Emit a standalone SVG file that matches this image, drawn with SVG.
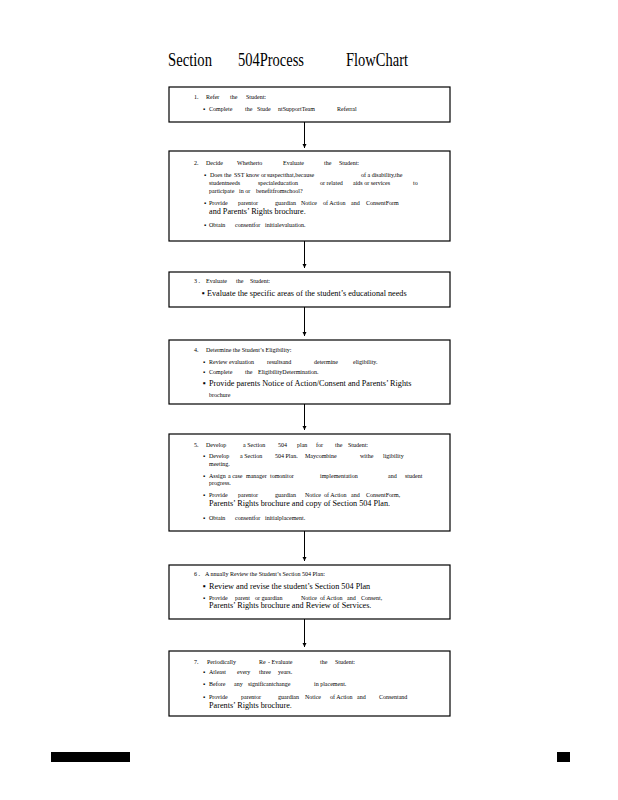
<svg xmlns="http://www.w3.org/2000/svg" width="618" height="800" viewBox="0 0 618 800">
<style>
.box{fill:#fff;stroke:#000;stroke-width:1.2}
.s{font-family:"Liberation Serif","Times New Roman",serif;font-size:6px;fill:#000}
.l{font-family:"Liberation Serif","Times New Roman",serif;font-size:8.2px;fill:#000}
.t{font-family:"Liberation Serif","Times New Roman",serif;font-size:18px;fill:#000}
.c{stroke:#000;stroke-width:1;fill:none}
</style>
<defs>
<marker id="ah" viewBox="0 0 6 6" refX="6" refY="3" markerWidth="4.5" markerHeight="4.5" markerUnits="userSpaceOnUse" orient="auto">
<path d="M0,0 L6,3 L0,6 z" fill="#000"/>
</marker>
</defs>
<rect width="618" height="800" fill="#fff"/>
<g id="title">
<text class="t" y="66"><tspan x="168" textLength="44" lengthAdjust="spacingAndGlyphs">Section</tspan><tspan x="238" textLength="66" lengthAdjust="spacingAndGlyphs">504Process</tspan><tspan x="346" textLength="62" lengthAdjust="spacingAndGlyphs">FlowChart</tspan></text>
</g>
<g id="connectors">
<line class="c" x1="304.5" y1="122" x2="304.5" y2="148" marker-end="url(#ah)"/>
<line class="c" x1="304.5" y1="241" x2="304.5" y2="268" marker-end="url(#ah)"/>
<line class="c" x1="304.5" y1="307" x2="304.5" y2="336" marker-end="url(#ah)"/>
<line class="c" x1="304.5" y1="404" x2="304.5" y2="430" marker-end="url(#ah)"/>
<line class="c" x1="304.5" y1="531" x2="304.5" y2="561" marker-end="url(#ah)"/>
<line class="c" x1="304.5" y1="619" x2="304.5" y2="647" marker-end="url(#ah)"/>
</g>
<g id="node1">
<rect class="box" x="169" y="87" width="281" height="35"/>
<text class="s" y="99"><tspan x="194">1.</tspan><tspan x="206">Refer</tspan><tspan x="230">the</tspan><tspan x="246">Student:</tspan></text>
<text class="s" y="111"><tspan x="203">▪</tspan><tspan x="209">Complete</tspan><tspan x="245">the</tspan><tspan x="257">Stude</tspan><tspan x="278">ntSupportTeam</tspan><tspan x="337">Referral</tspan></text>
</g>
<g id="node2">
<rect class="box" x="169" y="151" width="281" height="90"/>
<text class="s" y="165"><tspan x="194">2.</tspan><tspan x="206">Decide</tspan><tspan x="237">Whetherto</tspan><tspan x="283">Evaluate</tspan><tspan x="324">the</tspan><tspan x="339">Student:</tspan></text>
<text class="s" y="177"><tspan x="204">▪</tspan><tspan x="210">Does</tspan><tspan x="224">the</tspan><tspan x="234">SST</tspan><tspan x="246">know</tspan><tspan x="261">or</tspan><tspan x="267">suspectthat,because</tspan><tspan x="361">of a disability,the</tspan></text>
<text class="s" y="185"><tspan x="209">studentneeds</tspan><tspan x="258">specialeducation</tspan><tspan x="320">or related</tspan><tspan x="353">aids or services</tspan><tspan x="413">to</tspan></text>
<text class="s" y="193"><tspan x="209">participate</tspan><tspan x="239">in or</tspan><tspan x="256">benefitfromschool?</tspan></text>
<text class="s" y="205"><tspan x="204">▪</tspan><tspan x="209">Provide</tspan><tspan x="238">parentor</tspan><tspan x="275">guardian</tspan><tspan x="301">Notice</tspan><tspan x="323">of Action</tspan><tspan x="351">and</tspan><tspan x="366">ConsentForm</tspan></text>
<text class="l" x="209" y="214">and Parents’ Rights brochure.</text>
<text class="s" y="227"><tspan x="204">▪</tspan><tspan x="209">Obtain</tspan><tspan x="235">consentfor</tspan><tspan x="265">initialevaluation.</tspan></text>
</g>
<g id="node3">
<rect class="box" x="169" y="272" width="281" height="35"/>
<text class="s" y="283"><tspan x="194">3 .</tspan><tspan x="206">Evaluate</tspan><tspan x="236">the</tspan><tspan x="250">Student:</tspan></text>
<text class="l" y="296"><tspan x="202">▪</tspan><tspan x="207">Evaluate the specific areas of the student’s educational needs</tspan></text>
</g>
<g id="node4">
<rect class="box" x="169" y="340" width="281" height="64"/>
<text class="s" y="352"><tspan x="194">4.</tspan><tspan x="206">Determine the Student’s Eligibility:</tspan></text>
<text class="s" y="363.5"><tspan x="203">▪</tspan><tspan x="209">Review</tspan><tspan x="229">evaluation</tspan><tspan x="267">resultsand</tspan><tspan x="314">determine</tspan><tspan x="353">eligibility.</tspan></text>
<text class="s" y="374"><tspan x="203">▪</tspan><tspan x="209">Complete</tspan><tspan x="245">the</tspan><tspan x="258">EligibilityDetermination.</tspan></text>
<text class="l" y="386"><tspan x="203">▪</tspan><tspan x="209">Provide parents Notice of Action/Consent and Parents’ Rights</tspan></text>
<text class="s" x="209" y="396.5">brochure</text>
</g>
<g id="node5">
<rect class="box" x="169" y="434" width="281" height="97"/>
<text class="s" y="447"><tspan x="194">5.</tspan><tspan x="206">Develop</tspan><tspan x="243">a Section</tspan><tspan x="278">504</tspan><tspan x="297">plan</tspan><tspan x="316">for</tspan><tspan x="335">the</tspan><tspan x="348">Student:</tspan></text>
<text class="s" y="458"><tspan x="203">▪</tspan><tspan x="209">Develop</tspan><tspan x="240">a Section</tspan><tspan x="275">504 Plan.</tspan><tspan x="305">Maycombine</tspan><tspan x="360">withe</tspan><tspan x="383">ligibility</tspan></text>
<text class="s" x="209" y="466">meeting.</text>
<text class="s" y="477.5"><tspan x="203">▪</tspan><tspan x="209">Assign</tspan><tspan x="228">a case</tspan><tspan x="246">manager</tspan><tspan x="270">tomonitor</tspan><tspan x="320">implementation</tspan><tspan x="388">and</tspan><tspan x="405">student</tspan></text>
<text class="s" x="209" y="485">progress.</text>
<text class="s" y="497"><tspan x="203">▪</tspan><tspan x="209">Provide</tspan><tspan x="238">parentor</tspan><tspan x="275">guardian</tspan><tspan x="305">Notice</tspan><tspan x="324">of Action</tspan><tspan x="351">and</tspan><tspan x="366">ConsentForm,</tspan></text>
<text class="l" x="209" y="505.5">Parents’ Rights brochure and copy of Section 504 Plan.</text>
<text class="s" y="520"><tspan x="203">▪</tspan><tspan x="209">Obtain</tspan><tspan x="235">consentfor</tspan><tspan x="265">initialplacement.</tspan></text>
</g>
<g id="node6">
<rect class="box" x="169" y="565" width="281" height="54"/>
<text class="s" y="576"><tspan x="194">6 .</tspan><tspan x="205">A nnually Review the Student’s Section 504 Plan:</tspan></text>
<text class="l" y="589"><tspan x="203">▪</tspan><tspan x="209">Review and revise the student’s Section 504 Plan</tspan></text>
<text class="s" y="600"><tspan x="203">▪</tspan><tspan x="209">Provide</tspan><tspan x="235">parent</tspan><tspan x="255">or guardian</tspan><tspan x="301">Notice</tspan><tspan x="320">of Action</tspan><tspan x="347">and</tspan><tspan x="361">Consent,</tspan></text>
<text class="l" x="209" y="608">Parents’ Rights brochure and Review of Services.</text>
</g>
<g id="node7">
<rect class="box" x="169" y="651" width="281" height="65"/>
<text class="s" y="664"><tspan x="194">7.</tspan><tspan x="207">Periodically</tspan><tspan x="259">Re</tspan><tspan x="268">- Evaluate</tspan><tspan x="320">the</tspan><tspan x="335">Student:</tspan></text>
<text class="s" y="674"><tspan x="203">▪</tspan><tspan x="209">Atleast</tspan><tspan x="237">every</tspan><tspan x="259">three</tspan><tspan x="278">years.</tspan></text>
<text class="s" y="686"><tspan x="203">▪</tspan><tspan x="209">Before</tspan><tspan x="234">any</tspan><tspan x="248">significantchange</tspan><tspan x="314">in placement.</tspan></text>
<text class="s" y="698.5"><tspan x="203">▪</tspan><tspan x="209">Provide</tspan><tspan x="241">parentor</tspan><tspan x="278">guardian</tspan><tspan x="305">Notice</tspan><tspan x="330">of Action</tspan><tspan x="357">and</tspan><tspan x="379">Consentand</tspan></text>
<text class="l" x="209" y="707.5">Parents’ Rights brochure.</text>
</g>
<g id="footer">
<rect x="51" y="752" width="79" height="10" fill="#000"/>
<rect x="557" y="752" width="13" height="10" fill="#000"/>
</g>
</svg>
